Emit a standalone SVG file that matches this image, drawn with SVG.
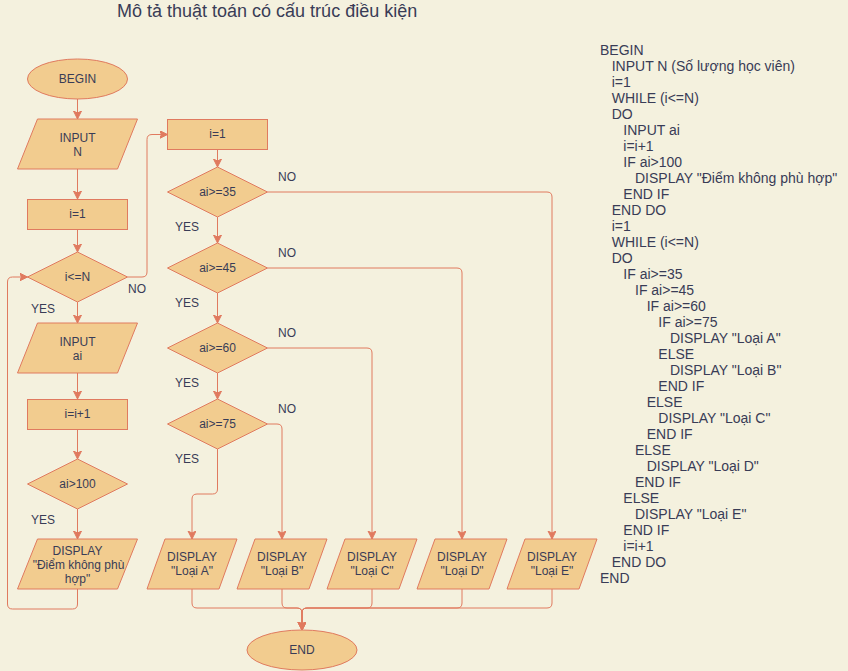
<svg xmlns="http://www.w3.org/2000/svg" width="848" height="671" viewBox="0 0 848 671">
<style>
.s{fill:#F2CC8F;stroke:#E07A5F;stroke-width:1}
.t{font-family:"Liberation Sans",Arial,sans-serif;font-size:12px;fill:#393C56;text-anchor:middle}
.l{font-family:"Liberation Sans",Arial,sans-serif;font-size:12px;fill:#393C56}
.c{fill:none;stroke:#E07A5F;stroke-width:1}
.a{marker-end:url(#arr)}
.p{font-family:"Liberation Sans",Arial,sans-serif;font-size:14px;fill:#393C56}
</style>
<defs>
<marker id="arr" markerUnits="userSpaceOnUse" markerWidth="10" markerHeight="10" refX="8" refY="4" orient="auto">
<path d="M0,0 L8,4 L0,8 L2,4 z" fill="#E07A5F" stroke="#E07A5F" stroke-width="1"/>
</marker>
</defs>
<rect x="0" y="0" width="848" height="671" fill="#F4F1DE"/>
<text x="117" y="17" font-family="Liberation Sans,Arial,sans-serif" font-size="18" fill="#393C56">Mô tả thuật toán có cấu trúc điều kiện</text>

<g id="connectors">
<path class="c a" d="M77.5,99 V119"/>
<path class="c a" d="M77.5,169 V199"/>
<path class="c a" d="M77.5,229.5 V252"/>
<path class="c a" d="M77.5,302 V323"/>
<path class="c a" d="M77.5,373 V399"/>
<path class="c a" d="M77.5,429.5 V459"/>
<path class="c a" d="M77.5,509 V539"/>
<path class="c a" d="M77.5,589 V604 Q77.5,609 72.5,609 H12.5 Q7.5,609 7.5,604 V282 Q7.5,277 12.5,277 H27.5"/>
<path class="c a" d="M127.5,277 H142 Q147,277 147,272 V139.5 Q147,134.5 152,134.5 H167.5"/>
<path class="c a" d="M217.5,149.5 V167"/>
<path class="c a" d="M217.5,217 V243"/>
<path class="c a" d="M217.5,293 V323"/>
<path class="c a" d="M217.5,373 V399"/>
<path class="c a" d="M217.5,449 V489 Q217.5,494 212.5,494 H197 Q192,494 192,499 V539"/>
<path class="c a" d="M267.5,424 H277 Q282,424 282,429 V539"/>
<path class="c a" d="M267.5,348 H367 Q372,348 372,353 V539"/>
<path class="c a" d="M267.5,268 H457 Q462,268 462,273 V539"/>
<path class="c a" d="M267.5,192 H547 Q552,192 552,197 V539"/>
<path class="c a" d="M192,589 V603 Q192,608 197,608 H297 Q302,608 302,613 V630"/>
<path class="c a" d="M282,589 V603 Q282,608 287,608 H297 Q302,608 302,613 V630"/>
<path class="c a" d="M372,589 V603 Q372,608 367,608 H307 Q302,608 302,613 V630"/>
<path class="c a" d="M462,589 V603 Q462,608 457,608 H307 Q302,608 302,613 V630"/>
<path class="c a" d="M552,589 V603 Q552,608 547,608 H307 Q302,608 302,613 V630"/>
</g>

<g id="labels">
<text class="l" x="128" y="293">NO</text>
<text class="l" x="31" y="313">YES</text>
<text class="l" x="31" y="524">YES</text>
<text class="l" x="175" y="231">YES</text>
<text class="l" x="175" y="307">YES</text>
<text class="l" x="175" y="387">YES</text>
<text class="l" x="175" y="463">YES</text>
<text class="l" x="278" y="181">NO</text>
<text class="l" x="278" y="257">NO</text>
<text class="l" x="278" y="337">NO</text>
<text class="l" x="278" y="413">NO</text>
</g>

<g id="begin"><ellipse class="s" cx="77.5" cy="79" rx="50" ry="20"/><text class="t" x="77.5" y="83">BEGIN</text></g>
<g id="inputN"><polygon class="s" points="37.5,119 137.5,119 117.5,169 17.5,169"/><text class="t" x="77.5" y="142">INPUT</text><text class="t" x="77.5" y="156">N</text></g>
<g id="i1a"><rect class="s" x="27.5" y="199.5" width="100" height="30"/><text class="t" x="77.5" y="218">i=1</text></g>
<g id="cond_iN"><polygon class="s" points="77.5,252 127.5,277 77.5,302 27.5,277"/><text class="t" x="77.5" y="281">i&lt;=N</text></g>
<g id="inputAi"><polygon class="s" points="37.5,323 137.5,323 117.5,373 17.5,373"/><text class="t" x="77.5" y="346">INPUT</text><text class="t" x="77.5" y="360">ai</text></g>
<g id="inc"><rect class="s" x="27.5" y="399.5" width="100" height="30"/><text class="t" x="77.5" y="418">i=i+1</text></g>
<g id="cond100"><polygon class="s" points="77.5,459 127.5,484 77.5,509 27.5,484"/><text class="t" x="77.5" y="488">ai&gt;100</text></g>
<g id="dispErr"><polygon class="s" points="37.5,539 137.5,539 117.5,589 17.5,589"/><text class="t" x="77.5" y="555">DISPLAY</text><text class="t" x="78.5" y="569">"Điểm không phù</text><text class="t" x="77.5" y="583">hợp"</text></g>

<g id="i1b"><rect class="s" x="167.5" y="119.5" width="100" height="30"/><text class="t" x="217.5" y="138">i=1</text></g>
<g id="c35"><polygon class="s" points="217.5,167 267.5,192 217.5,217 167.5,192"/><text class="t" x="217.5" y="196">ai&gt;=35</text></g>
<g id="c45"><polygon class="s" points="217.5,243 267.5,268 217.5,293 167.5,268"/><text class="t" x="217.5" y="272">ai&gt;=45</text></g>
<g id="c60"><polygon class="s" points="217.5,323 267.5,348 217.5,373 167.5,348"/><text class="t" x="217.5" y="352">ai&gt;=60</text></g>
<g id="c75"><polygon class="s" points="217.5,399 267.5,424 217.5,449 167.5,424"/><text class="t" x="217.5" y="428">ai&gt;=75</text></g>

<g id="dA"><polygon class="s" points="165,539 237,539 219,589 147,589"/><text class="t" x="192" y="561">DISPLAY</text><text class="t" x="192" y="575">"Loại A"</text></g>
<g id="dB"><polygon class="s" points="255,539 327,539 309,589 237,589"/><text class="t" x="282" y="561">DISPLAY</text><text class="t" x="282" y="575">"Loại B"</text></g>
<g id="dC"><polygon class="s" points="345,539 417,539 399,589 327,589"/><text class="t" x="372" y="561">DISPLAY</text><text class="t" x="372" y="575">"Loại C"</text></g>
<g id="dD"><polygon class="s" points="435,539 507,539 489,589 417,589"/><text class="t" x="462" y="561">DISPLAY</text><text class="t" x="462" y="575">"Loại D"</text></g>
<g id="dE"><polygon class="s" points="525,539 597,539 579,589 507,589"/><text class="t" x="552" y="561">DISPLAY</text><text class="t" x="552" y="575">"Loại E"</text></g>
<g id="end"><ellipse class="s" cx="302" cy="650" rx="55" ry="20"/><text class="t" x="302" y="654">END</text></g>

<g id="pseudocode">
<text class="p" x="600" y="55">BEGIN</text>
<text class="p" x="611.7" y="71">INPUT N (Số lượng học viên)</text>
<text class="p" x="611.7" y="87">i=1</text>
<text class="p" x="611.7" y="103">WHILE (i&lt;=N)</text>
<text class="p" x="611.7" y="119">DO</text>
<text class="p" x="623.3" y="135">INPUT ai</text>
<text class="p" x="623.3" y="151">i=i+1</text>
<text class="p" x="623.3" y="167">IF ai&gt;100</text>
<text class="p" x="635" y="183">DISPLAY "Điểm không phù hợp"</text>
<text class="p" x="623.3" y="199">END IF</text>
<text class="p" x="611.7" y="215">END DO</text>
<text class="p" x="611.7" y="231">i=1</text>
<text class="p" x="611.7" y="247">WHILE (i&lt;=N)</text>
<text class="p" x="611.7" y="263">DO</text>
<text class="p" x="623.3" y="279">IF ai&gt;=35</text>
<text class="p" x="635" y="295">IF ai&gt;=45</text>
<text class="p" x="646.7" y="311">IF ai&gt;=60</text>
<text class="p" x="658.3" y="327">IF ai&gt;=75</text>
<text class="p" x="670" y="343">DISPLAY "Loại A"</text>
<text class="p" x="658.3" y="359">ELSE</text>
<text class="p" x="670" y="375">DISPLAY "Loại B"</text>
<text class="p" x="658.3" y="391">END IF</text>
<text class="p" x="646.7" y="407">ELSE</text>
<text class="p" x="658.3" y="423">DISPLAY "Loại C"</text>
<text class="p" x="646.7" y="439">END IF</text>
<text class="p" x="635" y="455">ELSE</text>
<text class="p" x="646.7" y="471">DISPLAY "Loại D"</text>
<text class="p" x="635" y="487">END IF</text>
<text class="p" x="623.3" y="503">ELSE</text>
<text class="p" x="635" y="519">DISPLAY "Loại E"</text>
<text class="p" x="623.3" y="535">END IF</text>
<text class="p" x="623.3" y="551">i=i+1</text>
<text class="p" x="611.7" y="567">END DO</text>
<text class="p" x="600" y="583">END</text>
</g>
</svg>
